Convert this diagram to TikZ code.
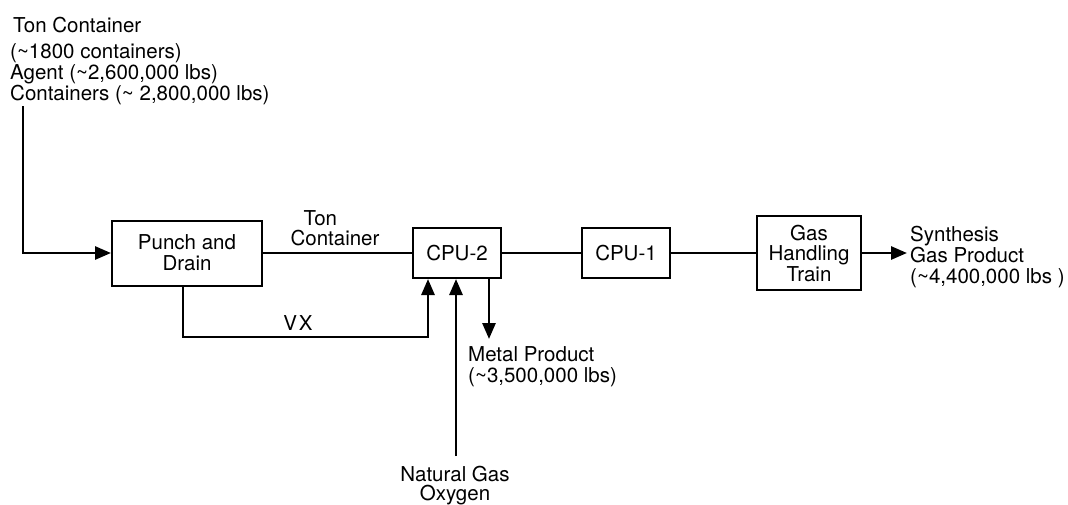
\documentclass[tikz,border=0pt]{standalone}
\usepackage{fontspec}
\setmainfont{TeX Gyre Heros}
\usetikzlibrary{arrows.meta}
\begin{document}
\begin{tikzpicture}[x=1pt,y=-1pt,
  txt/.style={inner sep=0pt,font=\fontsize{20.5}{20}\selectfont},
  box/.style={draw,line width=2pt,inner sep=0pt,align=center,font=\fontsize{20.5}{21}\selectfont},
  conn/.style={line width=2.8pt},
  flow/.style={line width=2.8pt,-{Triangle[length=16pt,width=13pt]}}]
\path[use as bounding box,fill=white] (0,0) rectangle (1068,504);

% boxes
\node[box,minimum width=150pt,minimum height=65pt] (pd) at (187,253) {Punch and\\Drain};
\node[box,minimum width=88pt,minimum height=50pt] (cpu2) at (457,253) {CPU-2};
\node[box,minimum width=88pt,minimum height=50pt] (cpu1) at (626,253) {CPU-1};
\node[box,minimum width=104pt,minimum height=74pt,font=\fontsize{20.5}{20.5}\selectfont] (gas) at (809,253) {Gas\\Handling\\Train};

% texts
\node[txt,anchor=base west] (tct) at (13,32) {Ton Container};
\node[txt,anchor=base west,align=left,font=\fontsize{20.5}{19}\selectfont] (tcd) at (10,100)
  {(\textasciitilde1800 containers)\\Agent (\textasciitilde2,600,000 lbs)\\Containers (\textasciitilde\ 2,800,000 lbs)};
\node[txt,align=left] (tcl) at (335,228) {\hspace*{13pt}Ton\\Container};
\node[txt] (vx) at (298,323) {V\kern2pt X};
\node[txt,anchor=base west,align=left,font=\fontsize{20.5}{20.5}\selectfont] (metal) at (468,382)
  {Metal Product\\(\textasciitilde3,500,000 lbs)};
\node[txt,anchor=base west,align=left,font=\fontsize{20.5}{21}\selectfont] (syn) at (910,283)
  {Synthesis\\Gas Product\\(\textasciitilde4,400,000 lbs )};
\node[txt,anchor=north,align=center,font=\fontsize{20.5}{19}\selectfont] (ngo) at (455,466)
  {Natural Gas\\Oxygen};

% coordinates
\coordinate (in) at (23,106);
\coordinate (vx1) at (183,337);
\coordinate (vx2) at (428,337);
\coordinate (ng) at (456,456);
\coordinate (mp) at (489,339);
\coordinate (out) at (907,253);

% connectors
\draw[flow] (in) |- (pd.west);
\draw[conn] (pd.east) -- (cpu2.west);
\draw[conn] (cpu2.east) -- (cpu1.west);
\draw[conn] (cpu1.east) -- (gas.west);
\draw[flow] (gas.east) -- (out);
\draw[flow] (vx1 |- pd.south) -- (vx1) -- (vx2) -- (vx2 |- cpu2.south);
\draw[flow] (ng) -- (ng |- cpu2.south);
\draw[flow] (mp |- cpu2.south) -- (mp);
\end{tikzpicture}
\end{document}
